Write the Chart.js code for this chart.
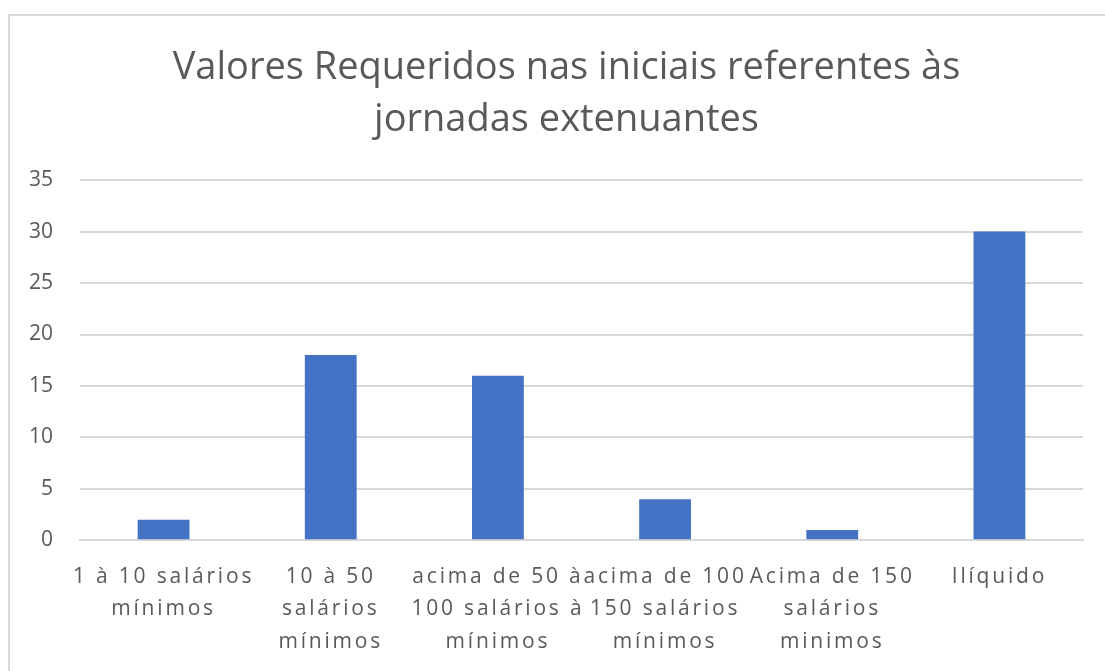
<!DOCTYPE html>
<html>
<head>
<meta charset="utf-8">
<script src="https://cdn.jsdelivr.net/npm/chart.js@4"></script>
<style>
  body { margin: 0; background: #fff; overflow: hidden; }
  .frame {
    position: absolute; left: 8px; top: 14px;
    width: 1110px; height: 700px;
    border: 2px solid #d9d9d9;
  }
  .wrap { position: absolute; left: 0; top: 0; width: 1105px; height: 671px; }
</style>
</head>
<body>
<div class="frame"></div>
<div class="wrap"><canvas id="chart"></canvas></div>
<script>
const categories = [
  ['1 à 10 salários', 'mínimos'],
  ['10 à 50', 'salários', 'mínimos'],
  ['acima de 50 à', '100 salários à', 'mínimos'],
  ['acima de 100', '150 salários', 'mínimos'],
  ['Acima de 150', 'salários', 'minimos'],
  ['Ilíquido']
];
const values = [2, 18, 16, 4, 1, 30];
const yTicks = [0, 5, 10, 15, 20, 25, 30, 35];

const textColor = '#595959';
const gridColor = '#d9d9d9';

// x tick labels are drawn after the bars (ticks.z: 1) so they get the wide spacing,
// title and y ticks are drawn before and keep normal spacing
const spacedLabels = {
  id: 'spacedLabels',
  afterDatasetsDraw(chart) { chart.ctx.letterSpacing = '2.8px'; },
  afterDraw(chart) { chart.ctx.letterSpacing = '0px'; }
};

// the title is centred on the whole chart box, which runs past the right edge of the window
const shiftTitle = {
  id: 'shiftTitle',
  afterLayout(chart) {
    const t = chart.titleBlock;
    if (t) { t.left += 11; t.right += 11; }
  }
};

const ctx = document.getElementById('chart').getContext('2d');
new Chart(ctx, {
  type: 'bar',
  data: {
    labels: categories,
    datasets: [{
      data: values,
      backgroundColor: '#4472c4',
      borderWidth: 0,
      categoryPercentage: 1,
      barPercentage: 0.31
    }]
  },
  options: {
    responsive: true,
    maintainAspectRatio: false,
    animation: false,
    layout: { padding: { left: 28, right: 22, top: 42, bottom: -7 } },
    plugins: {
      legend: { display: false },
      tooltip: { enabled: false },
      title: {
        display: true,
        text: ['Valores Requeridos nas iniciais referentes às', 'jornadas extenuantes'],
        color: textColor,
        font: { family: 'Open Sans', size: 38, weight: 'normal', lineHeight: 1.37 },
        padding: { top: 0, bottom: 34 }
      }
    },
    scales: {
      x: {
        grid: { display: false, drawTicks: false },
        border: { display: true, color: gridColor, width: 2 },
        ticks: {
          z: 1,
          color: textColor,
          font: { family: 'Open Sans', size: 21, lineHeight: 1.55 },
          maxRotation: 0,
          autoSkip: false,
          padding: 20
        }
      },
      y: {
        min: 0,
        max: 35,
        afterBuildTicks: axis => { axis.ticks = yTicks.map(v => ({ value: v })); },
        afterFit: axis => { axis.width = 52; },
        grid: { color: gridColor, lineWidth: 2, drawTicks: false },
        border: { display: false },
        ticks: {
          color: textColor,
          font: { family: 'Open Sans', size: 21 },
          padding: 27
        }
      }
    }
  },
  plugins: [spacedLabels, shiftTitle]
});
</script>
</body>
</html>
